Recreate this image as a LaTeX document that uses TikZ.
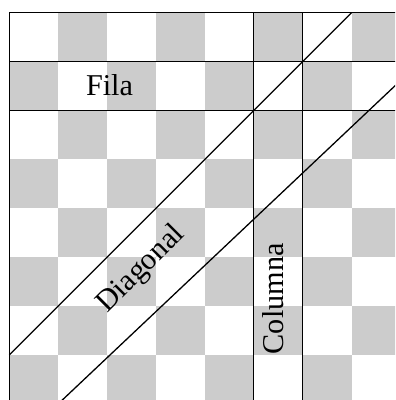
\documentclass[tikz,border=0pt]{standalone}
\usepackage{fontspec}
\setmainfont{Liberation Serif}
\begin{document}
\begin{tikzpicture}[x=1cm,y=1cm,
  darksq/.style={fill=black!20},
  gridline/.style={line width=0.75pt, black},
  lbl/.style={font=\fontsize{17.6}{20}\selectfont, inner sep=0pt}]
\useasboundingbox (-0.19,0.08) rectangle (7.888,8.26);
\clip (-0.19,0.08) rectangle (7.888,8.26);
\foreach \i in {0,...,7}{\foreach \j in {0,...,7}{
  \pgfmathtruncatemacro\sq{mod(\i+\j,2)}
  \ifnum\sq=0 \fill[darksq] (\i,\j) rectangle ++(1,1);\fi}}
\coordinate (d1a) at (7,8);
\coordinate (d1b) at (0,1);
\coordinate (d2a) at (8.2,6.8);
\coordinate (d2b) at (1,0);
\draw[gridline] (0,8) -- (8.2,8) (0,7) -- (8.2,7) (0,6) -- (8.2,6)
  (0,-0.2) -- (0,8) (5,-0.2) -- (5,8) (6,-0.2) -- (6,8);
\draw[gridline] (d1a) -- (d1b) (d2a) -- (d2b);
\node[lbl] (fila) at (2.05,6.52) {Fila};
\node[lbl, rotate=90] (columna) at (5.39,2.15) {Columna};
\node[lbl, rotate=45] (diagonal) at (2.7,2.75) {Diagonal};
\end{tikzpicture}
\end{document}
